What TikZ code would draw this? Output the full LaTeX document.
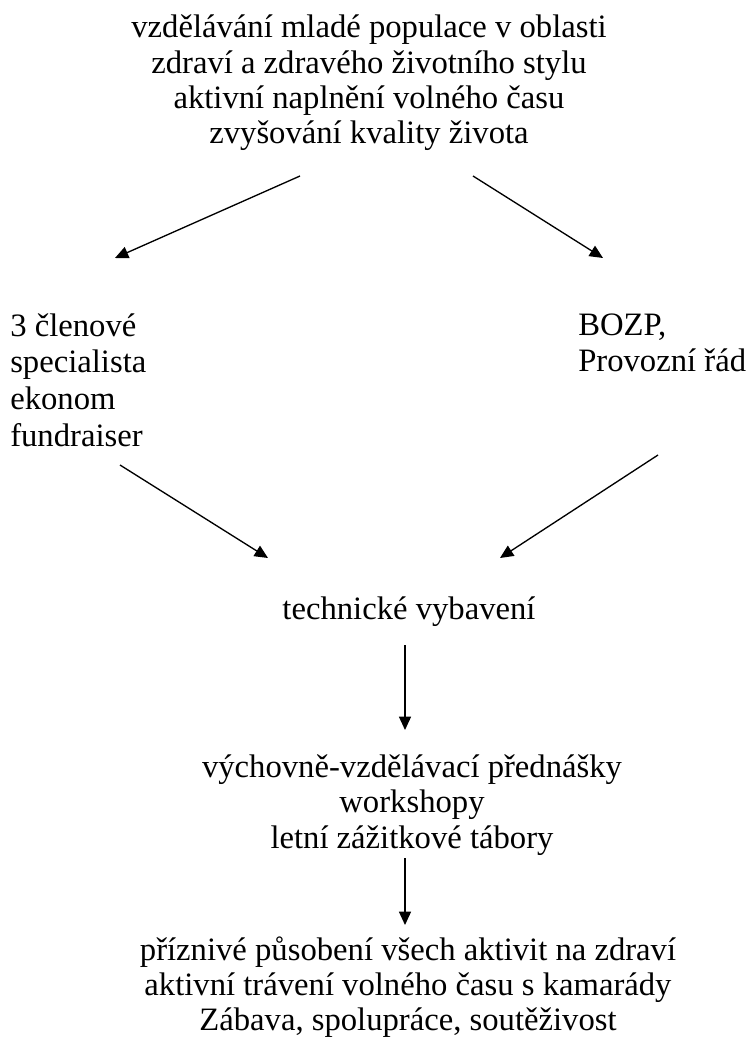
\documentclass[tikz,border=0pt]{standalone}
\usepackage{fontspec}
\setmainfont{Liberation Serif}
\usetikzlibrary{arrows.meta, calc}

\begin{document}
\begin{tikzpicture}[x=0.75pt, y=-0.75pt, font=\fontsize{24.5}{26.5}\selectfont,
    txt/.style={inner sep=0pt, align=center},
    sipka/.style={line width=1pt, -{Triangle[length=10pt, width=9pt]}}]
    \useasboundingbox (0,0) rectangle (746,1037);
    \node[txt] (cile) at (369,83) {vzdělávání mladé populace v oblasti \\ zdraví a zdravého životního stylu \\ aktivní naplnění volného času \\ zvyšování kvality života};
    \node[txt, align=left, anchor=west, font=\fontsize{24.5}{27.5}\selectfont] (lide) at (10,380) {3 členové \\ specialista \\ ekonom \\ fundraiser};
    \node[txt, align=left, anchor=west] (pravidla) at (578,343) {BOZP, \\ Provozní řád};
    \node[txt] (technika) at (409,612) {technické vybavení};
    \node[txt] (aktivity) at (412,805) {výchovně-vzdělávací přednášky \\ workshopy \\ letní zážitkové tábory};
    \node[txt] (vysledky) at (408,987) {příznivé působení všech aktivit na zdraví \\ aktivní trávení volného času s kamarády \\ Zábava, spolupráce, soutěživost};
    % sipky
    \draw[sipka] ($(cile.center)+(-69,93)$) -- ($(lide.west)+(105,-122)$);
    \draw[sipka] ($(cile.center)+(104,93)$) -- ($(pravidla.west)+(25,-85)$);
    \draw[sipka] ($(lide.west)+(110,85)$) -- ($(technika.center)+(-141,-54)$);
    \draw[sipka] ($(pravidla.west)+(80,112)$) -- ($(technika.center)+(91,-54)$);
    \draw[sipka] ($(technika.center)+(-4,33)$) -- ($(aktivity.center)+(-7,-75)$);
    \draw[sipka] ($(aktivity.center)+(-7,53)$) -- ($(vysledky.center)+(-3,-62)$);
\end{tikzpicture}
\end{document}
